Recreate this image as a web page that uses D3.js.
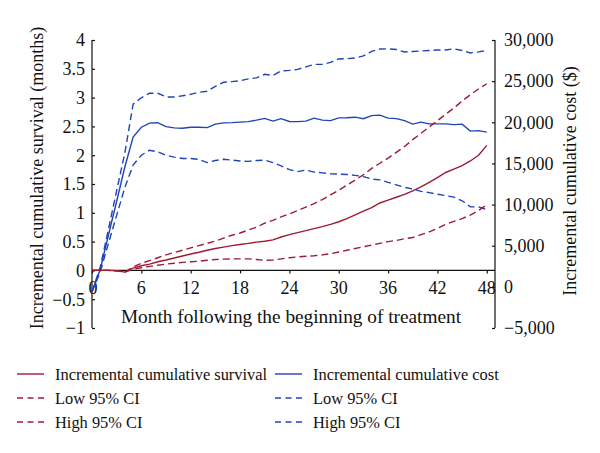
<!DOCTYPE html>
<html>
<head>
<meta charset="utf-8">
<script src="https://cdn.jsdelivr.net/npm/d3@7"></script>
<style>
  body { margin: 0; background: #fff; }
  svg text { font-family: "Liberation Serif", "DejaVu Serif", serif; fill: #111; }
</style>
</head>
<body>
<script>
// ================================
// DATA (month 0..48)
// ================================
var months = d3.range(0, 49);

// incremental cumulative survival (months), left axis
var survival = [0, 0, 0, -0.005, -0.03, 0.04, 0.08, 0.11, 0.15, 0.18,
    0.215, 0.25, 0.285, 0.315, 0.35, 0.38, 0.405, 0.43, 0.45, 0.47,
    0.49, 0.505, 0.53, 0.58, 0.62, 0.655, 0.69, 0.725, 0.76, 0.80,
    0.845, 0.90, 0.965, 1.03, 1.09, 1.17, 1.22, 1.27, 1.32, 1.38,
    1.45, 1.53, 1.61, 1.70, 1.76, 1.82, 1.90, 2.00, 2.17];
var survivalLow = [0, 0, 0, -0.005, -0.03, 0.02, 0.045, 0.07, 0.09, 0.11,
    0.125, 0.14, 0.15, 0.16, 0.175, 0.19, 0.195, 0.20, 0.20, 0.20,
    0.19, 0.175, 0.18, 0.20, 0.22, 0.235, 0.245, 0.255, 0.27, 0.29,
    0.32, 0.35, 0.38, 0.41, 0.44, 0.47, 0.50, 0.52, 0.55, 0.57,
    0.62, 0.67, 0.73, 0.80, 0.85, 0.90, 0.96, 1.04, 1.14];
var survivalHigh = [0, 0, 0, -0.005, -0.03, 0.06, 0.125, 0.17, 0.22, 0.27,
    0.31, 0.35, 0.39, 0.43, 0.47, 0.51, 0.56, 0.61, 0.65, 0.70,
    0.75, 0.82, 0.87, 0.93, 0.98, 1.04, 1.10, 1.16, 1.23, 1.31,
    1.39, 1.48, 1.57, 1.66, 1.77, 1.86, 1.95, 2.05, 2.15, 2.27,
    2.38, 2.49, 2.60, 2.71, 2.82, 2.94, 3.05, 3.15, 3.24];

// incremental cumulative cost ($), right axis
var cost = [-600, 2100, 6300, 10400, 14600, 18200, 19400, 19900, 19950, 19470,
    19320, 19270, 19400, 19400, 19350, 19780, 19930, 19960, 20020, 20080,
    20260, 20470, 20140, 20440, 20100, 20080, 20140, 20500, 20260, 20200,
    20540, 20560, 20620, 20440, 20810, 20870, 20500, 20440, 20200, 19780,
    20020, 19810, 19810, 19810, 19720, 19780, 18930, 18990, 18800];
var costLow = [-600, 1800, 5300, 8700, 12100, 14800, 16000, 16600, 16400, 16000,
    15770, 15600, 15600, 15500, 15100, 15350, 15500, 15400, 15300, 15250,
    15350, 15400, 15100, 14700, 14250, 14000, 14200, 13950, 13850, 13750,
    13700, 13650, 13550, 13400, 13100, 13000, 12700, 12400, 12100, 11900,
    11600, 11450, 11250, 11100, 10900, 10460, 9720, 9720, 9400];
var costHigh = [-600, 2400, 7000, 11700, 16300, 22200, 22980, 23530, 23530, 23080,
    23080, 23220, 23400, 23650, 23770, 24370, 24860, 24940, 25040, 25280,
    25400, 25830, 25700, 26250, 26310, 26430, 26730, 27040, 27040, 27280,
    27700, 27730, 27820, 28060, 28610, 28910, 28930, 28850, 28550, 28610,
    28670, 28730, 28790, 28790, 28930, 28730, 28430, 28550, 28730];

var xTicks = [0, 6, 12, 18, 24, 30, 36, 42, 48];
var yLeftTicks = [-1, -0.5, 0, 0.5, 1, 1.5, 2, 2.5, 3, 3.5, 4];
var yRightTicks = [-5000, 0, 5000, 10000, 15000, 20000, 25000, 30000];

var legendLeft = ["Incremental cumulative survival", "Low 95% CI", "High 95% CI"];
var legendRight = ["Incremental cumulative cost", "Low 95% CI", "High 95% CI"];

var red = "#9e1b34",
    blue = "#1f44b8";

// ================================
// CHART
// ================================
var width = 600,
    height = 453;

var svg = d3.select("body")
    .append("svg")
    .attr("width", width)
    .attr("height", height);

var x = d3.scaleLinear().domain([0, 49]).range([92, 495]);
var yL = d3.scaleLinear().domain([-1, 4]).range([328, 40]);
var yR = d3.scaleLinear().domain([-5000, 30000]).range([328, 40]);

var tickSize = "18px";

// left axis
var leftAxis = svg.append("g")
    .attr("transform", "translate(" + x(0) + ",0)")
    .call(d3.axisRight(yL).tickValues(yLeftTicks).tickSize(3).tickFormat(""));
leftAxis.select(".domain").attr("d", "M0," + yL(4) + "V" + yL(-1));

svg.selectAll(".ylab")
    .data(yLeftTicks)
    .enter()
    .append("text")
    .attr("class", "ylab")
    .attr("x", 85)
    .attr("y", function(d){ return yL(d); })
    .attr("dy", "0.35em")
    .attr("text-anchor", "end")
    .style("font-size", tickSize)
    .text(function(d){ return d < 0 ? "\u2212" + Math.abs(d) : d; });

// right axis
var rightAxis = svg.append("g")
    .attr("transform", "translate(495,0)")
    .call(d3.axisLeft(yR).tickValues(yRightTicks).tickSize(3).tickFormat(""));
rightAxis.select(".domain").attr("d", "M0," + yR(30000) + "V" + yR(-5000));

svg.selectAll(".yrlab")
    .data(yRightTicks)
    .enter()
    .append("text")
    .attr("class", "yrlab")
    .attr("x", 504)
    .attr("y", function(d){ return yR(d); })
    .attr("dy", "0.35em")
    .style("font-size", tickSize)
    .text(function(d){
        var s = d3.format(",")(Math.abs(d));
        return d < 0 ? "\u2212" + s : s;
    });

// x axis on the survival zero line
var xAxis = svg.append("g")
    .attr("transform", "translate(0," + yL(0) + ")")
    .call(d3.axisBottom(x).tickValues(xTicks).tickSize(3).tickFormat(""));
xAxis.select(".domain").attr("d", "M" + x(0) + ",0H495");

svg.selectAll(".xlab")
    .data(xTicks)
    .enter()
    .append("text")
    .attr("class", "xlab")
    .attr("x", function(d){ return x(d) + (d === 0 ? 1 : 0); })
    .attr("y", 294)
    .attr("text-anchor", "middle")
    .style("font-size", tickSize)
    .text(function(d){ return d; });

svg.selectAll(".domain, .tick line")
    .attr("stroke", "#111")
    .attr("stroke-width", 1.2);

// axis titles
svg.append("text")
    .attr("transform", "translate(43,178) rotate(-90)")
    .attr("text-anchor", "middle")
    .style("font-size", "18px")
    .text("Incremental cumulative survival (months)");

svg.append("text")
    .attr("transform", "translate(576,181) rotate(-90)")
    .attr("text-anchor", "middle")
    .style("font-size", "18px")
    .text("Incremental cumulative cost ($)");

svg.append("text")
    .attr("x", 291)
    .attr("y", 323)
    .attr("text-anchor", "middle")
    .style("font-size", "19.3px")
    .text("Month following the beginning of treatment");

// ================================
// LINES
// ================================
var series = [
    { values: costLow, scale: yR, color: blue, dash: "7,4" },
    { values: costHigh, scale: yR, color: blue, dash: "7,4" },
    { values: cost, scale: yR, color: blue, dash: null },
    { values: survivalLow, scale: yL, color: red, dash: "7,4" },
    { values: survivalHigh, scale: yL, color: red, dash: "7,4" },
    { values: survival, scale: yL, color: red, dash: null }
];

series.forEach(function(s){
    var line = d3.line()
        .x(function(d, i){ return x(months[i]); })
        .y(function(d){ return s.scale(d); });

    svg.append("path")
        .datum(s.values)
        .attr("fill", "none")
        .attr("stroke", s.color)
        .attr("stroke-width", 1.4)
        .attr("stroke-dasharray", s.dash)
        .attr("d", line);
});

// ================================
// LEGEND
// ================================
var rowY = [374, 398, 422];

function drawLegend(labels, color, x0, tx){
    labels.forEach(function(label, i){
        svg.append("line")
            .attr("x1", x0)
            .attr("x2", x0 + 27)
            .attr("y1", rowY[i])
            .attr("y2", rowY[i])
            .attr("stroke", color)
            .attr("stroke-width", 1.4)
            .attr("stroke-dasharray", i === 0 ? null : "6,4.5");

        svg.append("text")
            .attr("x", tx)
            .attr("y", rowY[i])
            .attr("dy", "0.35em")
            .style("font-size", "16.4px")
            .text(label);
    });
}

drawLegend(legendLeft, red, 17, 55);
drawLegend(legendRight, blue, 275, 313);
</script>
</body>
</html>
